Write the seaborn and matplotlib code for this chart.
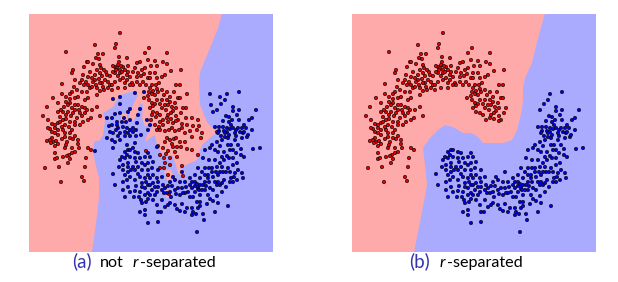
import numpy as np
import pandas as pd
import matplotlib
matplotlib.use("Agg")
import matplotlib.pyplot as plt
import seaborn as sns

W, H = 618, 282
red_pts = [(120,33),(116,44),(115,48),(95,45),(66,52),(103,54),(98,54),(149,48),(145,53),(119,57),(127,58),(96,58),(99,59),(87,62),(88,62),(84,67),(73,70),(72,73),(93,64),(100,65),(101,68),(115,67),(118,65),(117,68),(120,70),(123,67),(128,66),(140,62),(137,63),(148,60),(145,68),(142,70),(138,73),(137,77),(130,77),(127,75),(120,73),(115,73),(110,76),(107,75),(102,76),(95,75),(95,80),(88,77),(83,75),(82,80),(75,80),(80,83),(88,85),(62,84),(72,92),(77,90),(82,92),(87,92),(90,88),(96,85),(102,83),(103,87),(110,85),(115,82),(120,80),(127,80),(132,83),(133,85),(140,85),(146,85),(148,78),(118,88),(112,90),(100,91),(97,95),(88,98),(85,100),(78,97),(75,98),(70,99),(62,94),(58,103),(53,98),(47,107),(43,116),(58,112),(63,112),(70,103),(75,105),(72,108),(78,105),(82,107),(85,108),(92,110),(97,107),(68,112),(73,113),(80,113),(85,113),(91,118),(100,116),(88,120),(83,122),(75,122),(70,122),(63,120),(60,117),(48,120),(58,123),(65,125),(55,128),(50,129),(58,130),(63,130),(72,130),(75,125),(80,125),(55,133),(65,133),(70,133),
(167,53),(155,61),(163,62),(167,64),(151,66),(157,66),(181,70),(171,71),(150,73),(155,73),(165,75),(162,77),(157,78),(150,78),(176,85),(180,85),(157,89),(153,91),(162,90),(167,92),(187,94),(174,92),(170,97),(155,95),(162,100),(167,100),(178,98),(180,98),(155,104),(152,103),(153,106),(165,105),(168,105),(172,107),(176,108),(183,108),(186,108),(173,111),(171,113),(168,115),(181,113),(157,113),(156,117),(167,118),(163,120),(176,116),(186,118),(192,118),(198,120),(178,120),(173,123),(182,124),(187,125),(193,126),(199,126),(163,125),(159,127),(175,131),(169,130),(179,130),(185,133),(197,130),(202,133),(157,130),(165,131),(217,132),
(47,141),(52,138),(53,142),(56,141),(51,143),(65,137),(70,138),(75,136),(67,142),(78,144),(65,148),(72,148),(79,148),(55,153),(75,152),(72,153),(69,155),(67,156),(63,157),(55,159),(57,158),(70,159),(68,163),(59,167),(45,168),(86,158),(85,167),(88,148),(91,150),(82,177),(84,181),(61,182),(146,151),
(167,138),(170,140),(165,142),(174,139),(158,146),(168,151),(173,147),(177,147),(181,147),(187,149),(192,150),(198,155),(164,158),(170,158),(177,157),(165,163),(182,166),(160,168),(164,168),(168,175),(183,176),(169,194),(192,137),(185,142),(201,138),
(113,66),(116,70),(119,62),(121,66),(122,72),(125,70),(113,72),(106,72),(104,70),(100,73),(97,70),(90,72),(92,78),(86,82),(84,85),(92,87),(93,82),(99,79),(105,80),(108,82),(100,83),(97,88),(104,90),(108,88),(112,85),(118,76),(123,78),(125,83),(128,72),(133,72),(135,68),(141,76),(144,74),(143,82),(137,82),(130,85),(125,88),(74,87),(70,94),(66,97),(66,102),(68,105),(64,107),(61,110),(66,115),(71,116),(75,110),(79,110),(82,116),(87,110),(77,118),(66,119),(60,122),(55,125),(52,124),(69,127),(62,127),(58,135),(52,132),(48,128),(62,139),(50,140),(58,144),(55,146),(66,145),(73,139),(78,140),
(152,85),(156,85),(159,83),(152,94),(158,92),(164,95),(149,92),(149,100),(157,100),(160,104),(162,108),(170,102),(175,103),(166,110),(160,115),(176,121),(171,119),(160,122),(168,122),(152,115),(150,108),(153,112),(148,96),(150,88),(144,98),(151,120),(155,125),(160,130),(172,128),(182,128),(190,131),(176,138),(180,142),(172,144),(163,148),(166,154),(160,155),(170,165),(175,152)]
blue_pts = [(120,97),(113,99),(135,93),(144,92),(120,104),(130,109),(128,112),(115,114),(120,113),(107,118),(140,109),(138,115),(137,123),(109,126),(117,122),(117,125),(130,120),(123,127),(127,128),(130,130),(125,132),(133,132),(120,133),(113,133),(147,120),(148,130),
(210,94),(220,97),(227,94),(239,92),(225,100),(221,104),(211,105),(217,110),(213,112),(233,107),(233,111),(239,110),(256,110),(237,115),(226,116),(229,117),(223,121),(229,122),(239,120),(249,120),(252,118),(215,127),(219,127),(223,127),(227,128),(224,131),(219,131),(236,130),(238,128),(242,128),(246,128),(252,130),(240,132),(235,133),(243,133),(227,132),(218,133),(150,125),
(95,151),(107,138),(112,140),(115,142),(120,140),(113,148),(127,145),(135,143),(128,150),(133,148),(127,155),(125,158),(130,157),(135,158),(120,160),(123,165),(119,167),(128,163),(138,153),(140,158),(145,157),(148,153),(133,167),(138,167),(145,165),(148,163),(113,174),(123,170),(128,172),(135,170),(142,170),(148,170),(130,177),(127,180),(123,182),(140,177),(145,178),(148,175),(115,185),(123,190),(130,192),(135,191),(125,197),(134,197),(139,197),(142,187),(145,188),(148,185),(148,193),(146,202),(142,203),(140,212),(145,210),(145,215),(148,223),
(150,157),(157,147),(153,162),(152,168),(158,170),(153,175),(157,178),(150,178),(162,177),(173,177),(175,180),(170,182),(163,185),(158,187),(155,187),(152,190),(157,192),(150,195),(153,200),(157,205),(158,212),(161,212),(158,222),(164,193),(167,193),(170,192),(175,190),(178,188),(182,188),(185,193),(188,192),(192,182),(193,197),(192,188),(198,187),(200,185),(202,190),(205,190),(208,195),(197,202),(200,202),(213,201),(218,203),(228,206),(198,208),(192,208),(193,212),(192,215),(185,212),(180,211),(177,209),(170,203),(165,207),(168,205),(203,214),(215,212),(204,220),(197,232),(198,168),(205,168),(209,168),(217,167),(222,167),(223,172),(218,175),(213,177),(208,175),(205,175),(202,172),(209,182),(205,182),(218,182),(217,185),(213,190),(222,192),(226,187),(230,182),(233,182),(237,180),(235,173),(242,173),(243,178),(233,165),(228,168),(237,163),(244,157),(253,149),(260,148),(241,149),(238,145),(231,145),(230,150),(224,152),(218,152),(210,148),(212,145),(217,142),(222,140),(228,138),(225,137),(235,140),(242,138),(247,137),(205,150),(203,158),(209,160),(215,160),(222,157),(220,163),(195,182),(198,189),(185,182),(182,172),
(122,122),(126,122),(124,118),(118,128),(128,133),(133,128),(136,130),(112,125),(112,118),(116,130),(110,132),(118,136),(125,136),(130,136),(136,136),(141,135),(130,150),(125,152),(122,157),(135,152),(136,162),(142,163),(128,167),(125,175),(131,170),(138,174),(135,180),(142,183),(146,182),(128,187),(136,186),(140,192),(145,195),(150,185),(153,183),(158,182),(162,190),(165,188),(168,186),(172,186),(176,194),(180,195),(183,193),(190,185),(195,186),(197,184),(199,190),(200,195),(203,185),(206,186),(210,188),(208,178),(200,178),(195,175),(190,178),(186,187),(180,182),(212,168),(216,172),(220,172),(212,172),(226,172),(230,172),(231,178),(224,180),(220,185),(215,182),(222,183),(234,177),(229,158),(224,160),(233,158),(236,153),(228,145),(220,146),(215,150),(227,156),(241,155),(238,170),(233,150),(248,135),(225,133),(221,136),(229,135),(236,136),(244,132),(233,128),(231,125),(232,120),(244,125),(230,129),(217,196),(207,204),(196,214),(187,208),(182,204),(175,205),(171,197),(162,200),(155,195),(148,199),(141,200),(195,192),(190,197),(200,206),(210,199)]

region_a = [(92,252),(94,238),(97,215),(99,198),(99,178),(95,162),(93,152),(94,142),(100,140),(103,135),(105,120),(103,113),(113,107),(117,100),(120,95),(135,91),(138,95),(133,105),(130,113),(128,120),(133,122),(138,112),(140,103),(143,105),(142,118),(145,127),(150,122),(153,125),(147,135),(145,142),(150,138),(155,135),(157,145),(163,155),(167,156),(172,155),(175,163),(178,173),(183,177),(185,172),(180,168),(190,163),(197,160),(200,150),(202,145),(213,135),(218,132),(212,128),(207,122),(200,105),(199,85),(200,72),(210,48),(218,28),(222,13),(274,13),(274,252)]
islands_a = [[(164,171),(171,169),(174,178),(167,181)], [(121,114),(127,113),(127,121),(121,121)], [(165,190),(172,190),(172,197),(166,198)]]
region_b = [(91,252),(97,222),(104,185),(102,165),(100,148),(107,138),(115,130),(122,125),(130,127),(140,133),(149,133),(155,137),(160,143),(180,143),(189,140),(194,130),(199,110),(200,100),(200,88),(202,78),(209,63),(214,42),(222,13),(274,13),(274,252)]

# levels used to keep the points of the r-separated panel
red_limit_x = [97,100,120,150,165,185]
red_limit_y = [999,118,108,113,122,122]
blue_limit_x = [112,170,195,205,214,217,222]
blue_limit_y = [149,149,147,148,125,108,90]

captions = [
    [("(a)", 72, "#3333B2", "normal", 13.5), ("not", 100, "black", "normal", 11.6), ("r", 133, "black", "italic", 11.6), ("-separated", 140, "black", "normal", 11.6)],
    [("(b)", 409, "#3333B2", "normal", 13.5), ("r", 440, "black", "italic", 11.6), ("-separated", 447, "black", "normal", 11.6)],
]

sns.set_theme(style="white")
plt.rcParams["font.family"] = ["Lato", "DejaVu Sans"]

red = pd.DataFrame(red_pts, columns=["x", "y"]).assign(label="red")
blue = pd.DataFrame(blue_pts, columns=["x", "y"]).assign(label="blue")
full = pd.concat([red, blue], ignore_index=True)
red_keep = red[(red.x < 186) & (red.y < np.interp(red.x, red_limit_x, red_limit_y))]
blue_keep = blue[(blue.x >= 112) & (blue.y > np.interp(blue.x, blue_limit_x, blue_limit_y))]
clean = pd.concat([red_keep, blue_keep], ignore_index=True)

fig = plt.figure(figsize=(W/100, H/100), dpi=100, facecolor="white")
boxes = [(29, 273), (352, 596)]
for (l, r), data, region, islands in zip(boxes, [full, clean], [region_a, region_b], [islands_a, []]):
    ax = fig.add_axes([l/W, 1-251.5/H, (r-l)/W, 238/H])
    ax.set_facecolor("#FFAAAA")
    ax.fill(*zip(*region), color="#AAAAFF", lw=0)
    for isl in islands:
        ax.fill(*zip(*isl), color="#FFAAAA", lw=0)
    sns.scatterplot(data=data, x="x", y="y", hue="label", hue_order=["red", "blue"],
                    palette={"red": "#E00000", "blue": "#0000E0"}, s=6, edgecolor="black",
                    linewidth=0.4, legend=False, ax=ax, zorder=3)
    ax.set_xlim(29, 273)
    ax.set_ylim(251.5, 13.5)
    ax.set_xticks([]); ax.set_yticks([])
    ax.set_xlabel(""); ax.set_ylabel("")
    for s in ax.spines.values():
        s.set_visible(False)

for cap in captions:
    for txt, x, col, style, size in cap:
        fig.text(x/W, 1-267/H, txt, color=col, fontstyle=style, fontsize=size, ha="left", va="baseline")

fig.savefig("out.png", dpi=100, facecolor="white")
